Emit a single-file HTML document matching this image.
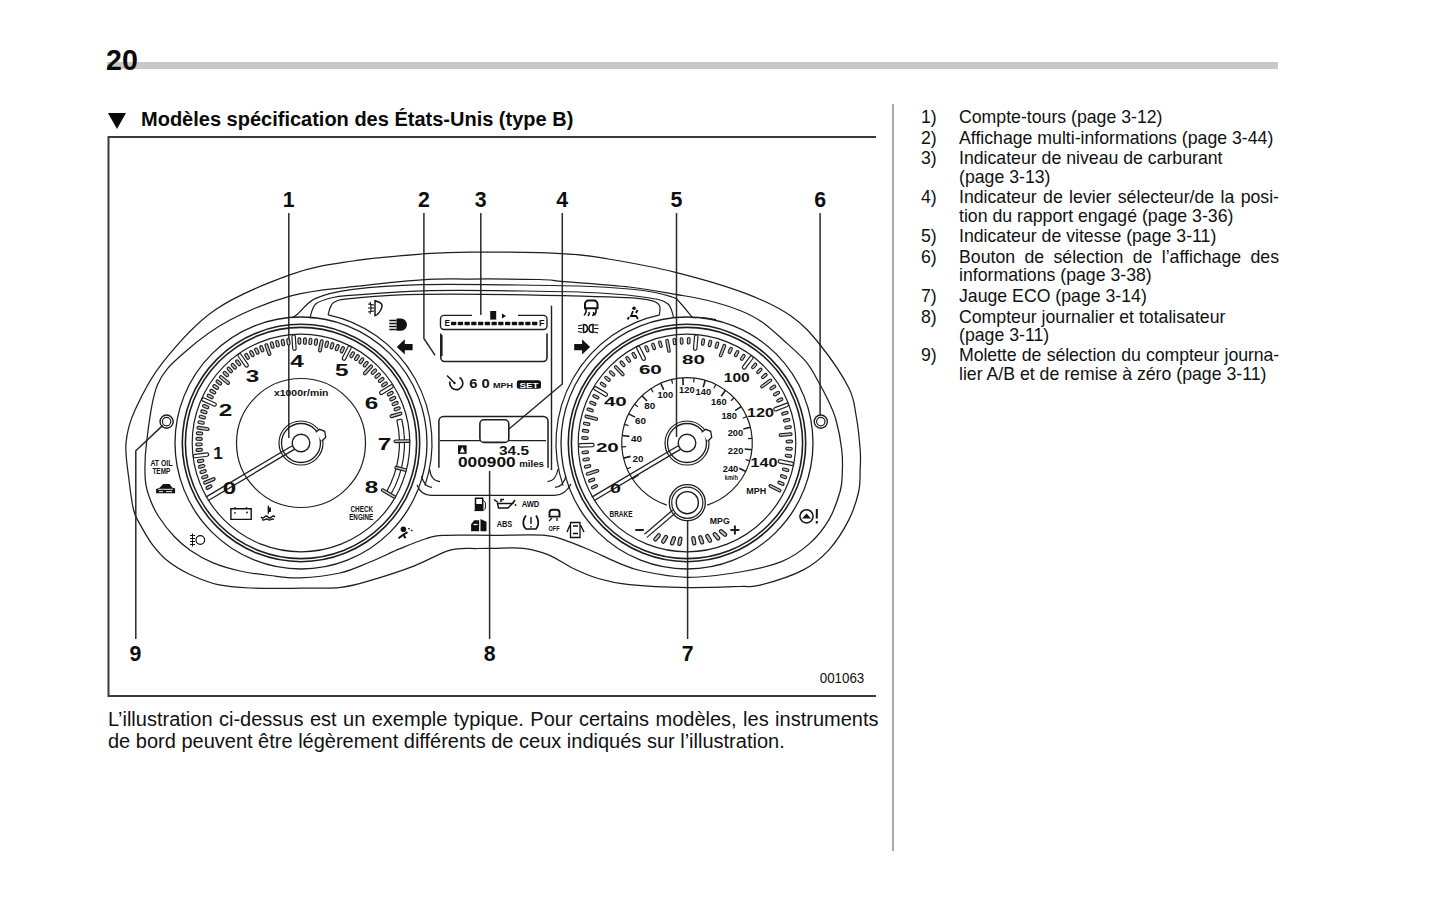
<!DOCTYPE html>
<html><head><meta charset="utf-8">
<style>
html,body{margin:0;padding:0;background:#fff;width:1445px;height:909px;overflow:hidden;position:relative}
body{font-family:"Liberation Sans",sans-serif;color:#111}
.abs{position:absolute;white-space:nowrap}
#pgnum{left:106px;top:44px;font-size:28.6px;font-weight:bold;line-height:32px;color:#0a0a0a;z-index:2}
#bar{left:107px;top:62px;width:1171px;height:7px;background:#c9c9c9}
#head{left:108px;top:106px;font-size:20px;font-weight:bold;line-height:26px;color:#0a0a0a}
#head .tri{display:inline-block;width:0;height:0;border-left:9px solid transparent;border-right:9px solid transparent;border-top:16px solid #0a0a0a;margin-right:15px;vertical-align:-3px}
#sep{left:892px;top:104px;width:2px;height:747px;background:#a9a9a9}
#list{left:921px;top:108px;width:358px;font-size:17.7px;line-height:18.2px;color:#111}
#list .it{position:relative;padding-left:38px;margin-bottom:2.5px}
.l{white-space:nowrap}
.l.j{text-align:justify;text-align-last:justify;white-space:normal}
#list .n{position:absolute;left:0;top:0}
#para{left:108px;top:707.5px;width:770.5px;font-size:20px;line-height:22.5px;color:#111}
#dia{position:absolute;left:0;top:0}
</style></head><body>
<div id="bar" class="abs"></div>
<div id="pgnum" class="abs">20</div>
<div id="head" class="abs"><span class="tri"></span>Modèles spécification des États-Unis (type B)</div>
<div id="sep" class="abs"></div>
<div id="list" class="abs">
<div class="it"><span class="n">1)</span><div class="l">Compte-tours (page 3-12)</div></div>
<div class="it"><span class="n">2)</span><div class="l">Affichage multi-informations (page 3-44)</div></div>
<div class="it"><span class="n">3)</span><div class="l">Indicateur de niveau de carburant</div><div class="l">(page 3-13)</div></div>
<div class="it"><span class="n">4)</span><div class="l j">Indicateur de levier sélecteur/de la posi-</div><div class="l">tion du rapport engagé (page 3-36)</div></div>
<div class="it"><span class="n">5)</span><div class="l">Indicateur de vitesse (page 3-11)</div></div>
<div class="it"><span class="n">6)</span><div class="l j">Bouton de sélection de l’affichage des</div><div class="l">informations (page 3-38)</div></div>
<div class="it"><span class="n">7)</span><div class="l">Jauge ECO (page 3-14)</div></div>
<div class="it"><span class="n">8)</span><div class="l">Compteur journalier et totalisateur</div><div class="l">(page 3-11)</div></div>
<div class="it"><span class="n">9)</span><div class="l j" style="letter-spacing:-0.09px">Molette de sélection du compteur journa-</div><div class="l">lier A/B et de remise à zéro (page 3-11)</div></div>
</div>
<div id="para" class="abs"><div class="l j">L’illustration ci-dessus est un exemple typique. Pour certains modèles, les instruments</div><div class="l">de bord peuvent être légèrement différents de ceux indiqués sur l’illustration.</div></div>
<svg id="dia" width="1445" height="909" viewBox="0 0 1445 909">
<g stroke="#3a3a3a" stroke-width="2" fill="none"><path d="M108 137H876M108.5 136V697M108 696H876"/></g>
<g fill="#0d0d0d" font-family="Liberation Sans">
<text x="288.8" y="207" font-size="21.3" font-weight="bold" text-anchor="middle">1</text>
<text x="423.9" y="207" font-size="21.3" font-weight="bold" text-anchor="middle">2</text>
<text x="480.8" y="207" font-size="21.3" font-weight="bold" text-anchor="middle">3</text>
<text x="562.3" y="207" font-size="21.3" font-weight="bold" text-anchor="middle">4</text>
<text x="676.5" y="207" font-size="21.3" font-weight="bold" text-anchor="middle">5</text>
<text x="820.1" y="207" font-size="21.3" font-weight="bold" text-anchor="middle">6</text>
<text x="135.5" y="661" font-size="21.3" font-weight="bold" text-anchor="middle">9</text>
<text x="489.6" y="661" font-size="21.3" font-weight="bold" text-anchor="middle">8</text>
<text x="687.6" y="661" font-size="21.3" font-weight="bold" text-anchor="middle">7</text>
<text x="842" y="683" font-size="14.5" font-weight="normal" text-anchor="middle" textLength="44.5" lengthAdjust="spacingAndGlyphs">001063</text>
</g>
<g stroke="#2a2a2a" stroke-width="1.5" fill="none"><path d="M288.8 213V438"/><path d="M423.9 213V338.4L435.1 355.3"/><path d="M480.8 213V315"/><path d="M562.3 213V384L509 429"/><path d="M676.5 213V437"/><path d="M820.1 213V415"/><path d="M135.8 639V450.8L162.8 425.4"/><path d="M489.6 639V471"/><path d="M687.6 639V502"/></g>
<g stroke="#1e1e1e" stroke-width="1.25" fill="none"><path d="M470 252C446.2 252 441.5 252.5 422 254C402.5 255.5 374.7 257.6 353 261C331.3 264.4 315 266 292 274.2C269 282.4 236.6 295.3 215 310C193.4 324.7 175.9 345.9 162.6 362.6C149.3 379.3 141.1 396.6 135 410C128.9 423.4 127 431.3 126 443C125 454.7 127.7 468.8 129 480C130.3 491.2 131.9 502.8 133.6 510C135.3 517.2 136.3 517.4 139.4 523.1C142.5 528.8 147.2 537.6 152 544C156.8 550.4 162.1 556.5 168.5 561.6C174.9 566.7 182.2 570.9 190.5 574.8C198.8 578.6 208.1 582.5 218 584.7C227.9 586.9 236.3 587.4 250 588C263.7 588.6 284.8 588.3 300 588.2C315.2 588.1 329.1 588.6 341 587.3C352.9 585.9 359.3 583.7 371.5 580.1C383.7 576.5 401.3 570.8 414.4 565.8C427.5 560.8 439.7 553 450.2 550.1C460.7 547.2 470.1 548.8 477.4 548.5C484.7 548.2 486.3 548.3 494 548.3C501.7 548.3 514.5 547.2 523.6 548.3C532.7 549.4 540.2 551.4 548.5 554.8C556.8 558.2 565.1 564.5 573.4 568.5C581.7 572.5 589 575.8 598.3 578.5C607.6 581.2 614.6 583.2 629.4 584.7C644.2 586.2 668.6 587.3 687 587.6C705.4 587.9 727.8 586.9 740 586.5C752.2 586.1 749.5 587.9 760 585.2C770.5 582.5 791.4 576 802.9 570.1C814.4 564.2 821.1 558.4 828.7 550.1C836.3 541.8 843.7 529.9 848.7 520.1C853.7 510.3 856.8 499.9 858.7 491.5C860.6 483.1 859.9 476.9 860.1 470C860.4 463.1 860.9 459.2 860.2 450C859.5 440.8 857.9 425.4 856 415C854.1 404.6 854.5 399.3 848.7 387.8C842.9 376.3 830.6 358 821 346C811.4 334 803.7 324.8 791 316C778.3 307.2 764 300.4 744.8 293.1C725.5 285.8 698.2 278 675.5 272.3C652.8 266.6 626.8 262.1 608.4 259C590 255.9 588.1 255 565 253.8C541.9 252.6 493.8 252 470 252Z"/><path d="M470 279C450.5 279.1 441.5 278.5 422 279.8C402.5 281.1 374.7 284.1 353 286.7C331.3 289.3 312.5 290.1 292 295.7C271.5 301.2 247.8 310.6 230 320C212.2 329.4 197.1 341.2 185 352C172.9 362.8 163.8 369.8 157.4 385C151 400.2 148.5 427.2 146.5 443C144.5 458.8 144.7 470.1 145.3 479.6C146 489.1 148.2 493.9 150.4 500C152.6 506.1 154.7 510.4 158.6 516.5C162.5 522.5 168.7 530.6 174 536.3C179.3 542 184.1 546.2 190.5 550.6C196.9 555 204.2 559.3 212.5 562.7C220.8 566.1 230.4 568.9 240 571C249.6 573.1 260 574.4 270 575.5C280 576.6 288.3 578.2 300 577.8C311.7 577.4 328.3 575.6 340 573C351.7 570.4 360 566 370 562C380 558 390.8 552.5 400 548.7C409.2 544.9 417.8 541.2 425 539C432.2 536.8 431.5 535.9 443 535.3C454.5 534.7 477 535.3 494 535.3C511 535.3 532.8 534.3 545 535.3C557.2 536.3 559.4 538.5 567.2 541.1C575 543.7 583.7 547.5 592 551C600.3 554.5 608.7 559 617 562.3C625.3 565.6 630.3 568.5 642 571C653.7 573.5 670.7 577.1 687 577.3C703.3 577.5 724.2 574.6 740 572C755.8 569.4 770.1 566.2 781.5 561.6C792.9 557 800.7 551.3 808.6 544.4C816.5 537.5 823.5 528.9 828.7 520.1C834 511.3 837.8 499.4 840.1 491.5C842.4 483.6 842 479.8 842.3 472.9C842.6 466 842.8 458.8 841.8 450C840.8 441.2 838.3 428.3 836 420C833.7 411.7 831.2 406.8 828 400C824.8 393.2 820.7 385.6 817 379.2C813.3 372.8 811.5 368 806 361.6C800.5 355.2 791.3 347.3 784 340.7C776.7 334.1 769.3 327 762 322C754.7 317 749 314.1 740 310.5C731 306.9 718.8 303.2 708 300.5C697.2 297.8 688.6 296.6 675.5 294.3C662.4 292.1 647.8 289.1 629.2 287C610.7 284.9 579.2 282.9 564.2 281.6C549.2 280.4 554.7 279.9 539 279.5C523.3 279.1 489.5 278.9 470 279Z"/></g>
<g stroke="#1e1e1e" fill="none"><circle cx="301" cy="443" r="126" stroke-width="1.3"/><circle cx="301" cy="443" r="118.7" stroke-width="1.6"/><circle cx="301" cy="443" r="115.6" stroke-width="1.6"/><circle cx="301" cy="443" r="108.8" stroke-width="1.2"/><circle cx="687" cy="443" r="126" stroke-width="1.3"/><circle cx="687" cy="443" r="118.7" stroke-width="1.6"/><circle cx="687" cy="443" r="115.6" stroke-width="1.6"/><circle cx="687" cy="443" r="108.8" stroke-width="1.2"/><circle cx="301" cy="443" r="64.5" stroke-width="1.2"/><path d="M666.8 505.1 A65.3 65.3 0 1 1 707.2 505.1" stroke-width="1.2"/><circle cx="301" cy="443" r="22" stroke-width="1.2"/><circle cx="301" cy="443" r="19.5" stroke-width="1.3"/><circle cx="301" cy="443" r="8.8" stroke-width="1.4"/><path d="M315.7 432.3 l4 -3 5 2 1 6 -4 4" stroke-width="1.3" fill="#fff"/><path d="M292.2 445.8L205.8 497.1" stroke-width="1.3"/><path d="M294.3 449.4L207.9 500.7" stroke-width="1.3"/><circle cx="687" cy="443" r="22" stroke-width="1.2"/><circle cx="687" cy="443" r="19.5" stroke-width="1.3"/><circle cx="687" cy="443" r="8.8" stroke-width="1.4"/><path d="M701.7 432.3 l4 -3 5 2 1 6 -4 4" stroke-width="1.3" fill="#fff"/><path d="M678.2 445.8L591.8 497.1" stroke-width="1.3"/><path d="M680.3 449.4L593.9 500.7" stroke-width="1.3"/><circle cx="687.3" cy="502.7" r="18" stroke-width="1.3" fill="#fff"/><circle cx="687.3" cy="502.7" r="15.6" stroke-width="1.2"/><circle cx="687.3" cy="502.7" r="11.1" stroke-width="1.4"/><path d="M675.2 513.2L646.9 537.4" stroke-width="1.2"/><path d="M672.8 510L644.5 534.2" stroke-width="1.2"/><circle cx="166.6" cy="421.6" r="6.6" stroke-width="1.4"/><circle cx="166.6" cy="421.6" r="4.2" stroke-width="1.2"/><circle cx="820.8" cy="421.6" r="6.6" stroke-width="1.4"/><circle cx="820.8" cy="421.6" r="4.2" stroke-width="1.2"/></g>
<g stroke="#1e1e1e" fill="#c4c4c4"><rect x="205.8" y="485.7" width="6.4" height="2.8" rx="1.4" transform="rotate(154.4 209 487.1)" stroke-width="1.15"/><rect x="203.3" y="479.5" width="12.2" height="2.8" rx="1.4" transform="rotate(157.5 209.4 480.9)" stroke-width="1.15"/><rect x="201.6" y="475.5" width="6.4" height="2.8" rx="1.4" transform="rotate(160.6 204.8 476.9)" stroke-width="1.15"/><rect x="199.9" y="470.2" width="6.4" height="2.8" rx="1.4" transform="rotate(163.7 203.1 471.6)" stroke-width="1.15"/><rect x="198.5" y="464.9" width="6.4" height="2.8" rx="1.4" transform="rotate(166.8 201.7 466.3)" stroke-width="1.15"/><rect x="197.4" y="459.5" width="6.4" height="2.8" rx="1.4" transform="rotate(169.9 200.6 460.9)" stroke-width="1.15"/><rect x="193.3" y="453.6" width="15.5" height="3.4" rx="1.7" transform="rotate(173 201 455.3)" fill="#fff" stroke-width="1.2"/><rect x="196" y="448.5" width="6.4" height="2.8" rx="1.4" transform="rotate(176.1 199.2 449.9)" stroke-width="1.15"/><rect x="195.8" y="443" width="6.4" height="2.8" rx="1.4" transform="rotate(179.2 199 444.4)" stroke-width="1.15"/><rect x="195.9" y="437.5" width="6.4" height="2.8" rx="1.4" transform="rotate(182.3 199.1 438.9)" stroke-width="1.15"/><rect x="196.3" y="432" width="6.4" height="2.8" rx="1.4" transform="rotate(185.4 199.5 433.4)" stroke-width="1.15"/><rect x="196.9" y="427" width="12.2" height="2.8" rx="1.4" transform="rotate(188.5 203 428.4)" stroke-width="1.15"/><rect x="197.9" y="421.1" width="6.4" height="2.8" rx="1.4" transform="rotate(191.6 201.1 422.5)" stroke-width="1.15"/><rect x="199.1" y="415.7" width="6.4" height="2.8" rx="1.4" transform="rotate(194.7 202.3 417.1)" stroke-width="1.15"/><rect x="200.7" y="410.4" width="6.4" height="2.8" rx="1.4" transform="rotate(197.8 203.9 411.8)" stroke-width="1.15"/><rect x="202.5" y="405.2" width="6.4" height="2.8" rx="1.4" transform="rotate(200.9 205.7 406.6)" stroke-width="1.15"/><rect x="201.2" y="400.3" width="15.5" height="3.4" rx="1.7" transform="rotate(204 209 402)" fill="#fff" stroke-width="1.2"/><rect x="207" y="395.1" width="6.4" height="2.8" rx="1.4" transform="rotate(207.1 210.2 396.5)" stroke-width="1.15"/><rect x="209.6" y="390.3" width="6.4" height="2.8" rx="1.4" transform="rotate(210.2 212.8 391.7)" stroke-width="1.15"/><rect x="212.5" y="385.6" width="6.4" height="2.8" rx="1.4" transform="rotate(213.3 215.7 387)" stroke-width="1.15"/><rect x="215.7" y="381.1" width="6.4" height="2.8" rx="1.4" transform="rotate(216.4 218.9 382.5)" stroke-width="1.15"/><rect x="218.4" y="378.6" width="12.2" height="2.8" rx="1.4" transform="rotate(219.5 224.5 380)" stroke-width="1.15"/><rect x="222.7" y="372.6" width="6.4" height="2.8" rx="1.4" transform="rotate(222.6 225.9 374)" stroke-width="1.15"/><rect x="226.6" y="368.6" width="6.4" height="2.8" rx="1.4" transform="rotate(225.7 229.8 370)" stroke-width="1.15"/><rect x="230.6" y="364.9" width="6.4" height="2.8" rx="1.4" transform="rotate(228.8 233.8 366.3)" stroke-width="1.15"/><rect x="234.9" y="361.3" width="6.4" height="2.8" rx="1.4" transform="rotate(231.9 238.1 362.7)" stroke-width="1.15"/><rect x="235.5" y="358.8" width="15.5" height="3.4" rx="1.7" transform="rotate(235 243.2 360.5)" fill="#fff" stroke-width="1.2"/><rect x="243.9" y="355" width="6.4" height="2.8" rx="1.4" transform="rotate(238.1 247.1 356.4)" stroke-width="1.15"/><rect x="248.7" y="352.2" width="6.4" height="2.8" rx="1.4" transform="rotate(241.2 251.9 353.6)" stroke-width="1.15"/><rect x="253.6" y="349.7" width="6.4" height="2.8" rx="1.4" transform="rotate(244.3 256.8 351.1)" stroke-width="1.15"/><rect x="258.6" y="347.4" width="6.4" height="2.8" rx="1.4" transform="rotate(247.4 261.8 348.8)" stroke-width="1.15"/><rect x="261.8" y="348.2" width="12.2" height="2.8" rx="1.4" transform="rotate(250.5 267.9 349.6)" stroke-width="1.15"/><rect x="269" y="343.7" width="6.4" height="2.8" rx="1.4" transform="rotate(253.6 272.2 345.1)" stroke-width="1.15"/><rect x="274.3" y="342.3" width="6.4" height="2.8" rx="1.4" transform="rotate(256.7 277.5 343.7)" stroke-width="1.15"/><rect x="279.7" y="341.2" width="6.4" height="2.8" rx="1.4" transform="rotate(259.8 282.9 342.6)" stroke-width="1.15"/><rect x="285.2" y="340.4" width="6.4" height="2.8" rx="1.4" transform="rotate(262.9 288.4 341.8)" stroke-width="1.15"/><rect x="286.2" y="340.8" width="15.5" height="3.4" rx="1.7" transform="rotate(266 294 342.5)" fill="#fff" stroke-width="1.2"/><rect x="296.2" y="339.6" width="6.4" height="2.8" rx="1.4" transform="rotate(269.1 299.4 341)" stroke-width="1.15"/><rect x="301.7" y="339.7" width="6.4" height="2.8" rx="1.4" transform="rotate(272.2 304.9 341.1)" stroke-width="1.15"/><rect x="307.2" y="340" width="6.4" height="2.8" rx="1.4" transform="rotate(275.3 310.4 341.4)" stroke-width="1.15"/><rect x="312.7" y="340.7" width="6.4" height="2.8" rx="1.4" transform="rotate(278.4 315.9 342.1)" stroke-width="1.15"/><rect x="314.7" y="344.5" width="12.2" height="2.8" rx="1.4" transform="rotate(281.5 320.8 345.9)" stroke-width="1.15"/><rect x="323.5" y="342.9" width="6.4" height="2.8" rx="1.4" transform="rotate(284.6 326.7 344.3)" stroke-width="1.15"/><rect x="328.8" y="344.4" width="6.4" height="2.8" rx="1.4" transform="rotate(287.7 332 345.8)" stroke-width="1.15"/><rect x="334" y="346.2" width="6.4" height="2.8" rx="1.4" transform="rotate(290.8 337.2 347.6)" stroke-width="1.15"/><rect x="339.1" y="348.3" width="6.4" height="2.8" rx="1.4" transform="rotate(293.9 342.3 349.7)" stroke-width="1.15"/><rect x="339" y="351.5" width="15.5" height="3.4" rx="1.7" transform="rotate(297 346.7 353.2)" fill="#fff" stroke-width="1.2"/><rect x="349" y="353.4" width="6.4" height="2.8" rx="1.4" transform="rotate(300.1 352.2 354.8)" stroke-width="1.15"/><rect x="353.7" y="356.3" width="6.4" height="2.8" rx="1.4" transform="rotate(303.2 356.9 357.7)" stroke-width="1.15"/><rect x="358.2" y="359.4" width="6.4" height="2.8" rx="1.4" transform="rotate(306.3 361.4 360.8)" stroke-width="1.15"/><rect x="362.5" y="362.8" width="6.4" height="2.8" rx="1.4" transform="rotate(309.4 365.7 364.2)" stroke-width="1.15"/><rect x="361.9" y="368.5" width="12.2" height="2.8" rx="1.4" transform="rotate(312.5 368 369.9)" stroke-width="1.15"/><rect x="370.7" y="370.2" width="6.4" height="2.8" rx="1.4" transform="rotate(315.6 373.9 371.6)" stroke-width="1.15"/><rect x="374.4" y="374.3" width="6.4" height="2.8" rx="1.4" transform="rotate(318.7 377.6 375.7)" stroke-width="1.15"/><rect x="378" y="378.5" width="6.4" height="2.8" rx="1.4" transform="rotate(321.8 381.2 379.9)" stroke-width="1.15"/><rect x="381.3" y="382.9" width="6.4" height="2.8" rx="1.4" transform="rotate(324.9 384.5 384.3)" stroke-width="1.15"/><rect x="378.7" y="387.9" width="15.5" height="3.4" rx="1.7" transform="rotate(328 386.4 389.6)" fill="#fff" stroke-width="1.2"/><rect x="387.1" y="392.3" width="6.4" height="2.8" rx="1.4" transform="rotate(331.1 390.3 393.7)" stroke-width="1.15"/><rect x="389.6" y="397.2" width="6.4" height="2.8" rx="1.4" transform="rotate(334.2 392.8 398.6)" stroke-width="1.15"/><rect x="391.9" y="402.2" width="6.4" height="2.8" rx="1.4" transform="rotate(337.3 395.1 403.6)" stroke-width="1.15"/><rect x="393.9" y="407.4" width="6.4" height="2.8" rx="1.4" transform="rotate(340.4 397.1 408.8)" stroke-width="1.15"/><rect x="389.9" y="413.5" width="12.2" height="2.8" rx="1.4" transform="rotate(343.5 396 414.9)" stroke-width="1.15"/><path d="M396.8 420.2 A98.5 98.5 0 0 1 386.3 492.2" stroke-width="1.2" fill="none"/><path d="M401.7 419 A103.5 103.5 0 0 1 390.6 494.8" stroke-width="1.2" fill="none"/><path d="M396.8 420.2L401.7 419" stroke-width="1.2"/><rect x="394" y="439.9" width="16" height="2.6" rx="1.3" transform="rotate(359 402 441.2)" stroke-width="1.1"/><rect x="394.7" y="467.5" width="12" height="2.6" rx="1.3" transform="rotate(374.5 400.7 468.8)" stroke-width="1.1"/><rect x="380.5" y="492.2" width="16" height="2.6" rx="1.3" transform="rotate(390 388.5 493.5)" stroke-width="1.1"/></g>
<g stroke="#1e1e1e" fill="#c4c4c4"><rect x="591.3" y="485.4" width="6.5" height="2.6" rx="1.3" transform="rotate(154.7 594.5 486.7)" stroke-width="1.1"/><rect x="588.5" y="478.8" width="6.5" height="2.6" rx="1.3" transform="rotate(158.7 591.7 480.1)" stroke-width="1.1"/><rect x="586" y="471.1" width="13" height="2.6" rx="1.3" transform="rotate(162.7 592.5 472.4)" stroke-width="1.1"/><rect x="584.2" y="465.1" width="6.5" height="2.6" rx="1.3" transform="rotate(166.7 587.5 466.4)" stroke-width="1.1"/><rect x="582.8" y="458.1" width="6.5" height="2.6" rx="1.3" transform="rotate(170.8 586.1 459.4)" stroke-width="1.1"/><rect x="581.9" y="451" width="6.5" height="2.6" rx="1.3" transform="rotate(174.8 585.2 452.3)" stroke-width="1.1"/><rect x="578.5" y="443.5" width="15.5" height="3.4" rx="1.7" transform="rotate(178.8 586.3 445.2)" fill="#fff" stroke-width="1.2"/><rect x="581.6" y="436.7" width="6.5" height="2.6" rx="1.3" transform="rotate(182.8 584.9 438)" stroke-width="1.1"/><rect x="582.2" y="429.6" width="6.5" height="2.6" rx="1.3" transform="rotate(186.8 585.5 430.9)" stroke-width="1.1"/><rect x="583.3" y="422.5" width="6.5" height="2.6" rx="1.3" transform="rotate(190.8 586.6 423.8)" stroke-width="1.1"/><rect x="584.8" y="416.4" width="13" height="2.6" rx="1.3" transform="rotate(194.8 591.3 417.7)" stroke-width="1.1"/><rect x="587" y="408.7" width="6.5" height="2.6" rx="1.3" transform="rotate(198.8 590.2 410)" stroke-width="1.1"/><rect x="589.5" y="402" width="6.5" height="2.6" rx="1.3" transform="rotate(202.8 592.8 403.3)" stroke-width="1.1"/><rect x="592.5" y="395.5" width="6.5" height="2.6" rx="1.3" transform="rotate(206.8 595.8 396.8)" stroke-width="1.1"/><rect x="592.7" y="389.7" width="15.5" height="3.4" rx="1.7" transform="rotate(210.8 600.5 391.4)" fill="#fff" stroke-width="1.2"/><rect x="599.8" y="383.3" width="6.5" height="2.6" rx="1.3" transform="rotate(214.8 603.1 384.6)" stroke-width="1.1"/><rect x="604.1" y="377.5" width="6.5" height="2.6" rx="1.3" transform="rotate(218.9 607.4 378.8)" stroke-width="1.1"/><rect x="608.8" y="372.1" width="6.5" height="2.6" rx="1.3" transform="rotate(222.9 612.1 373.4)" stroke-width="1.1"/><rect x="612.8" y="369.4" width="13" height="2.6" rx="1.3" transform="rotate(226.9 619.3 370.7)" stroke-width="1.1"/><rect x="619.2" y="362.4" width="6.5" height="2.6" rx="1.3" transform="rotate(230.9 622.5 363.7)" stroke-width="1.1"/><rect x="624.9" y="358.1" width="6.5" height="2.6" rx="1.3" transform="rotate(234.9 628.2 359.4)" stroke-width="1.1"/><rect x="630.9" y="354.1" width="6.5" height="2.6" rx="1.3" transform="rotate(238.9 634.2 355.4)" stroke-width="1.1"/><rect x="633.4" y="351.6" width="15.5" height="3.4" rx="1.7" transform="rotate(242.9 641.1 353.3)" fill="#fff" stroke-width="1.2"/><rect x="643.7" y="347.6" width="6.5" height="2.6" rx="1.3" transform="rotate(246.9 646.9 348.9)" stroke-width="1.1"/><rect x="650.3" y="345.1" width="6.5" height="2.6" rx="1.3" transform="rotate(250.9 653.6 346.4)" stroke-width="1.1"/><rect x="657.2" y="343" width="6.5" height="2.6" rx="1.3" transform="rotate(254.9 660.4 344.3)" stroke-width="1.1"/><rect x="661.5" y="344.5" width="13" height="2.6" rx="1.3" transform="rotate(258.9 668 345.8)" stroke-width="1.1"/><rect x="671.2" y="340.2" width="6.5" height="2.6" rx="1.3" transform="rotate(263 674.5 341.5)" stroke-width="1.1"/><rect x="678.3" y="339.6" width="6.5" height="2.6" rx="1.3" transform="rotate(267 681.6 340.9)" stroke-width="1.1"/><rect x="685.5" y="339.5" width="6.5" height="2.6" rx="1.3" transform="rotate(271 688.7 340.8)" stroke-width="1.1"/><rect x="688" y="340.9" width="15.5" height="3.4" rx="1.7" transform="rotate(275 695.7 342.6)" fill="#fff" stroke-width="1.2"/><rect x="699.7" y="340.7" width="6.5" height="2.6" rx="1.3" transform="rotate(279 703 342)" stroke-width="1.1"/><rect x="706.7" y="342.1" width="6.5" height="2.6" rx="1.3" transform="rotate(283 710 343.4)" stroke-width="1.1"/><rect x="713.7" y="343.9" width="6.5" height="2.6" rx="1.3" transform="rotate(287 716.9 345.2)" stroke-width="1.1"/><rect x="716" y="349.3" width="13" height="2.6" rx="1.3" transform="rotate(291 722.5 350.6)" stroke-width="1.1"/><rect x="727" y="349" width="6.5" height="2.6" rx="1.3" transform="rotate(295 730.3 350.3)" stroke-width="1.1"/><rect x="733.4" y="352.3" width="6.5" height="2.6" rx="1.3" transform="rotate(299 736.6 353.6)" stroke-width="1.1"/><rect x="739.5" y="356" width="6.5" height="2.6" rx="1.3" transform="rotate(303 742.8 357.3)" stroke-width="1.1"/><rect x="740" y="360.9" width="15.5" height="3.4" rx="1.7" transform="rotate(307 747.7 362.6)" fill="#fff" stroke-width="1.2"/><rect x="750.9" y="364.6" width="6.5" height="2.6" rx="1.3" transform="rotate(311.1 754.2 365.9)" stroke-width="1.1"/><rect x="756.1" y="369.5" width="6.5" height="2.6" rx="1.3" transform="rotate(315.1 759.4 370.8)" stroke-width="1.1"/><rect x="761" y="374.7" width="6.5" height="2.6" rx="1.3" transform="rotate(319.1 764.3 376)" stroke-width="1.1"/><rect x="759.7" y="382.2" width="13" height="2.6" rx="1.3" transform="rotate(323.1 766.2 383.5)" stroke-width="1.1"/><rect x="769.6" y="386.2" width="6.5" height="2.6" rx="1.3" transform="rotate(327.1 772.8 387.5)" stroke-width="1.1"/><rect x="773.3" y="392.3" width="6.5" height="2.6" rx="1.3" transform="rotate(331.1 776.5 393.6)" stroke-width="1.1"/><rect x="776.5" y="398.7" width="6.5" height="2.6" rx="1.3" transform="rotate(335.1 779.8 400)" stroke-width="1.1"/><rect x="773.4" y="405.4" width="15.5" height="3.4" rx="1.7" transform="rotate(339.1 781.1 407.1)" fill="#fff" stroke-width="1.2"/><rect x="781.6" y="412" width="6.5" height="2.6" rx="1.3" transform="rotate(343.1 784.8 413.3)" stroke-width="1.1"/><rect x="783.4" y="418.9" width="6.5" height="2.6" rx="1.3" transform="rotate(347.1 786.7 420.2)" stroke-width="1.1"/><rect x="784.8" y="426" width="6.5" height="2.6" rx="1.3" transform="rotate(351.1 788 427.3)" stroke-width="1.1"/><rect x="779.1" y="433.3" width="13" height="2.6" rx="1.3" transform="rotate(355.2 785.6 434.6)" stroke-width="1.1"/><rect x="786" y="440.2" width="6.5" height="2.6" rx="1.3" transform="rotate(359.2 789.2 441.5)" stroke-width="1.1"/><rect x="785.8" y="447.4" width="6.5" height="2.6" rx="1.3" transform="rotate(363.2 789.1 448.7)" stroke-width="1.1"/><rect x="785.2" y="454.5" width="6.5" height="2.6" rx="1.3" transform="rotate(367.2 788.4 455.8)" stroke-width="1.1"/><rect x="778.1" y="460.9" width="15.5" height="3.4" rx="1.7" transform="rotate(371.2 785.8 462.6)" fill="#fff" stroke-width="1.2"/><rect x="782.4" y="468.5" width="6.5" height="2.6" rx="1.3" transform="rotate(375.2 785.7 469.8)" stroke-width="1.1"/><rect x="780.3" y="475.3" width="6.5" height="2.6" rx="1.3" transform="rotate(379.2 783.6 476.6)" stroke-width="1.1"/><rect x="777.7" y="482" width="6.5" height="2.6" rx="1.3" transform="rotate(383.2 781 483.3)" stroke-width="1.1"/><rect x="768.5" y="487" width="13" height="2.6" rx="1.3" transform="rotate(387.2 775 488.3)" stroke-width="1.1"/><path d="M638.5 474.8L632.4 478.9" stroke-width="1.6"/><path d="M631 467.2L627 468.9" stroke-width="1.2"/><path d="M630.6 456.4L623.5 458.1" stroke-width="1.6"/><path d="M626.1 446.6L621.8 446.9" stroke-width="1.2"/><path d="M629.4 436.4L622.1 435.5" stroke-width="1.6"/><path d="M628.5 425.6L624.4 424.4" stroke-width="1.2"/><path d="M635.1 417.1L628.6 413.9" stroke-width="1.6"/><path d="M637.9 406.7L634.5 404.2" stroke-width="1.2"/><path d="M647 401L642 395.7" stroke-width="1.6"/><path d="M653.2 392.2L650.9 388.6" stroke-width="1.2"/><path d="M663.7 389.9L660.8 383.2" stroke-width="1.6"/><path d="M672.6 383.7L671.6 379.6" stroke-width="1.2"/><path d="M683.2 385.1L682.8 377.8" stroke-width="1.6"/><path d="M693.6 382.4L694.1 378.1" stroke-width="1.2"/><path d="M703.2 387.3L705.2 380.3" stroke-width="1.6"/><path d="M713.9 388.3L715.8 384.4" stroke-width="1.2"/><path d="M721.2 396.2L725.5 390.3" stroke-width="1.6"/><path d="M731 400.7L734.1 397.7" stroke-width="1.2"/><path d="M735.1 410.6L741.2 406.6" stroke-width="1.6"/><path d="M742.7 418.2L746.7 416.5" stroke-width="1.2"/><path d="M743.3 429L750.4 427.2" stroke-width="1.6"/><path d="M747.9 438.7L752.1 438.4" stroke-width="1.2"/><path d="M744.7 449L751.9 449.8" stroke-width="1.6"/><path d="M745.7 459.7L749.8 460.9" stroke-width="1.2"/><path d="M739.2 468.3L745.8 471.5" stroke-width="1.6"/><rect x="652.9" y="535.7" width="8.5" height="3.2" rx="1.6" transform="rotate(131.1 657.1 537.3)" stroke-width="1.2"/><rect x="660.4" y="537.7" width="8.5" height="3.2" rx="1.6" transform="rotate(121.8 664.6 539.3)" stroke-width="1.2"/><rect x="668.8" y="539.2" width="8.5" height="3.2" rx="1.6" transform="rotate(110.6 673 540.8)" stroke-width="1.2"/><rect x="675.6" y="539.7" width="8.5" height="3.2" rx="1.6" transform="rotate(100.9 679.9 541.3)" stroke-width="1.2"/><rect x="689.5" y="539.2" width="8.5" height="3.2" rx="1.6" transform="rotate(80.3 693.8 540.8)" stroke-width="1.2"/><rect x="697" y="538.2" width="8.5" height="3.2" rx="1.6" transform="rotate(69.5 701.2 539.8)" stroke-width="1.2"/><rect x="704.4" y="536.7" width="8.5" height="3.2" rx="1.6" transform="rotate(59.1 708.6 538.3)" stroke-width="1.2"/><rect x="712.2" y="534.7" width="8.5" height="3.2" rx="1.6" transform="rotate(49 716.5 536.3)" stroke-width="1.2"/><rect x="718.8" y="531.3" width="8.5" height="3.2" rx="1.6" transform="rotate(40.2 723 532.9)" stroke-width="1.2"/><path d="M635.3 530H643.8M730.4 529.9H739.4M734.9 525.4V534.4" stroke-width="2"/></g>
<g fill="#111" font-family="Liberation Sans"><text x="229.5" y="494.2" font-size="17" font-weight="bold" text-anchor="middle" textLength="13.5" lengthAdjust="spacingAndGlyphs">0</text><text x="218" y="458.7" font-size="17" font-weight="bold" text-anchor="middle">1</text><text x="225.4" y="415.7" font-size="17" font-weight="bold" text-anchor="middle" textLength="13.5" lengthAdjust="spacingAndGlyphs">2</text><text x="252.6" y="382.2" font-size="17" font-weight="bold" text-anchor="middle" textLength="13.5" lengthAdjust="spacingAndGlyphs">3</text><text x="297" y="367.2" font-size="17" font-weight="bold" text-anchor="middle" textLength="13.5" lengthAdjust="spacingAndGlyphs">4</text><text x="341.7" y="375.5" font-size="17" font-weight="bold" text-anchor="middle" textLength="13.5" lengthAdjust="spacingAndGlyphs">5</text><text x="371.4" y="408.5" font-size="17" font-weight="bold" text-anchor="middle" textLength="13.5" lengthAdjust="spacingAndGlyphs">6</text><text x="384.6" y="449.8" font-size="17" font-weight="bold" text-anchor="middle" textLength="13.5" lengthAdjust="spacingAndGlyphs">7</text><text x="371.4" y="492.7" font-size="17" font-weight="bold" text-anchor="middle" textLength="13.5" lengthAdjust="spacingAndGlyphs">8</text><text x="615.4" y="492.9" font-size="13.5" font-weight="bold" text-anchor="middle" textLength="11" lengthAdjust="spacingAndGlyphs">0</text><text x="607.4" y="452.1" font-size="13.5" font-weight="bold" text-anchor="middle" textLength="23" lengthAdjust="spacingAndGlyphs">20</text><text x="615.4" y="406.2" font-size="13.5" font-weight="bold" text-anchor="middle" textLength="23" lengthAdjust="spacingAndGlyphs">40</text><text x="650.4" y="374.3" font-size="13.5" font-weight="bold" text-anchor="middle" textLength="23" lengthAdjust="spacingAndGlyphs">60</text><text x="693.5" y="363.6" font-size="13.5" font-weight="bold" text-anchor="middle" textLength="23" lengthAdjust="spacingAndGlyphs">80</text><text x="736.8" y="381.8" font-size="13.5" font-weight="bold" text-anchor="middle" textLength="26" lengthAdjust="spacingAndGlyphs">100</text><text x="760.4" y="416.8" font-size="13.5" font-weight="bold" text-anchor="middle" textLength="27" lengthAdjust="spacingAndGlyphs">120</text><text x="764.1" y="466.6" font-size="13.5" font-weight="bold" text-anchor="middle" textLength="27" lengthAdjust="spacingAndGlyphs">140</text><text x="638.1" y="462.1" font-size="8.5" font-weight="bold" text-anchor="middle" textLength="11" lengthAdjust="spacingAndGlyphs">20</text><text x="636.5" y="442.3" font-size="8.5" font-weight="bold" text-anchor="middle" textLength="11" lengthAdjust="spacingAndGlyphs">40</text><text x="640.6" y="424.2" font-size="8.5" font-weight="bold" text-anchor="middle" textLength="11" lengthAdjust="spacingAndGlyphs">60</text><text x="649.7" y="408.5" font-size="8.5" font-weight="bold" text-anchor="middle" textLength="11" lengthAdjust="spacingAndGlyphs">80</text><text x="665.3" y="397.8" font-size="8.5" font-weight="bold" text-anchor="middle" textLength="15.5" lengthAdjust="spacingAndGlyphs">100</text><text x="686.8" y="392.8" font-size="8.5" font-weight="bold" text-anchor="middle" textLength="15.5" lengthAdjust="spacingAndGlyphs">120</text><text x="703.3" y="395.3" font-size="8.5" font-weight="bold" text-anchor="middle" textLength="15.5" lengthAdjust="spacingAndGlyphs">140</text><text x="718.8" y="404.9" font-size="8.5" font-weight="bold" text-anchor="middle" textLength="15.5" lengthAdjust="spacingAndGlyphs">160</text><text x="729.2" y="418.5" font-size="8.5" font-weight="bold" text-anchor="middle" textLength="15.5" lengthAdjust="spacingAndGlyphs">180</text><text x="735.4" y="435.5" font-size="8.5" font-weight="bold" text-anchor="middle" textLength="15.5" lengthAdjust="spacingAndGlyphs">200</text><text x="735.6" y="454.4" font-size="8.5" font-weight="bold" text-anchor="middle" textLength="15.5" lengthAdjust="spacingAndGlyphs">220</text><text x="730.5" y="471.7" font-size="8.5" font-weight="bold" text-anchor="middle" textLength="15.5" lengthAdjust="spacingAndGlyphs">240</text><text x="731.3" y="479.5" font-size="6.5" font-weight="bold" text-anchor="middle" textLength="13" lengthAdjust="spacingAndGlyphs">km/h</text><text x="301.2" y="396" font-size="9.5" font-weight="bold" text-anchor="middle" textLength="54.5" lengthAdjust="spacingAndGlyphs">x1000r/min</text><text x="756.3" y="494" font-size="9.5" font-weight="bold" text-anchor="middle" textLength="20" lengthAdjust="spacingAndGlyphs">MPH</text><text x="621" y="517" font-size="9.5" font-weight="bold" text-anchor="middle" textLength="23" lengthAdjust="spacingAndGlyphs">BRAKE</text><text x="719.8" y="524" font-size="9.5" font-weight="bold" text-anchor="middle" textLength="20" lengthAdjust="spacingAndGlyphs">MPG</text><text x="161.4" y="465.8" font-size="8.5" font-weight="bold" text-anchor="middle" textLength="22" lengthAdjust="spacingAndGlyphs">AT OIL</text><text x="161.4" y="474" font-size="8.5" font-weight="bold" text-anchor="middle" textLength="18" lengthAdjust="spacingAndGlyphs">TEMP</text><text x="361.8" y="511.7" font-size="9" font-weight="bold" text-anchor="middle" textLength="22.7" lengthAdjust="spacingAndGlyphs">CHECK</text><text x="361.2" y="520.3" font-size="9" font-weight="bold" text-anchor="middle" textLength="24" lengthAdjust="spacingAndGlyphs">ENGINE</text><text x="530.5" y="507" font-size="8.5" font-weight="bold" text-anchor="middle" textLength="17.7" lengthAdjust="spacingAndGlyphs">AWD</text><text x="504.5" y="526.7" font-size="8.5" font-weight="bold" text-anchor="middle" textLength="15.6" lengthAdjust="spacingAndGlyphs">ABS</text><text x="479.5" y="388.2" font-size="12" font-weight="bold" text-anchor="middle" textLength="20.5" lengthAdjust="spacingAndGlyphs">6 0</text><text x="503" y="388" font-size="8" font-weight="bold" text-anchor="middle" textLength="20" lengthAdjust="spacingAndGlyphs">MPH</text><rect x="516.8" y="380.2" width="24.2" height="8.6" rx="2.5" fill="#111"/><text x="529" y="387.6" font-size="8" font-weight="bold" text-anchor="middle" textLength="19" lengthAdjust="spacingAndGlyphs" fill="#fff">SET</text><text x="514" y="455.2" font-size="13" font-weight="bold" text-anchor="middle" textLength="30" lengthAdjust="spacingAndGlyphs">34.5</text><text x="458" y="466.8" font-size="14" font-weight="bold" text-anchor="start" textLength="57.7" lengthAdjust="spacingAndGlyphs">000900</text><text x="519.2" y="466.8" font-size="9" font-weight="bold" text-anchor="start" textLength="24.8" lengthAdjust="spacingAndGlyphs">miles</text><rect x="458" y="445.3" width="8.6" height="8.6" fill="#111"/><path d="M459.8 452.5L462.3 446.8L464.8 452.5Z" fill="#fff"/><text x="447.3" y="325.6" font-size="9" font-weight="bold" text-anchor="middle" textLength="5.5" lengthAdjust="spacingAndGlyphs">E</text><text x="541.8" y="325.6" font-size="9" font-weight="bold" text-anchor="middle" textLength="5.5" lengthAdjust="spacingAndGlyphs">F</text></g>
<g stroke="#1e1e1e" fill="none"><path d="M472 315.4H444a3.5 3.5 0 0 0 -3.5 3.5V326a3.5 3.5 0 0 0 3.5 3.5H543.5a3.5 3.5 0 0 0 3.5 -3.5V318.9a3.5 3.5 0 0 0 -3.5 -3.5H518" stroke-width="1.4"/><path d="M440.8 333.6V357.5a4 4 0 0 0 4 4H543a4 4 0 0 0 4 -4V333.6" stroke-width="1.6"/><path d="M441.3 335V356" stroke-width="2.6"/><path d="M438.9 467.8V421a4.6 4.6 0 0 1 4.6 -4.6H543.4a4.6 4.6 0 0 1 4.6 4.6V467.8" stroke-width="1.5"/><path d="M440 440.6H479.9M508.8 440.6H546" stroke-width="1.3"/><rect x="479.9" y="419.8" width="28.9" height="22.6" rx="4" stroke-width="1.6"/><path d="M551.5 305.7V470" stroke-width="1.4"/><path d="M417 485Q421 495.4 431 495.4H554.4Q565 495.4 571 484" stroke-width="1.3"/><path d="M429.6 469Q431 481 440 481.6M547.5 481.6Q556 481 558 469" stroke-width="1.2"/><path d="M421.6 475.9Q424 487 432 487.4M555 487.4Q563 487 566 476" stroke-width="1.2"/></g>
<g fill="#111"><rect x="451" y="321.8" width="5.3" height="3.4" rx="0.8"/><rect x="457.8" y="321.8" width="5.3" height="3.4" rx="0.8"/><rect x="464.5" y="321.8" width="5.3" height="3.4" rx="0.8"/><rect x="471.2" y="321.8" width="5.3" height="3.4" rx="0.8"/><rect x="478" y="321.8" width="5.3" height="3.4" rx="0.8"/><rect x="484.8" y="321.8" width="5.3" height="3.4" rx="0.8"/><rect x="491.5" y="321.8" width="5.3" height="3.4" rx="0.8"/><rect x="498.2" y="321.8" width="5.3" height="3.4" rx="0.8"/><rect x="505" y="321.8" width="5.3" height="3.4" rx="0.8"/><rect x="511.8" y="321.8" width="5.3" height="3.4" rx="0.8"/><rect x="518.5" y="321.8" width="5.3" height="3.4" rx="0.8"/><rect x="525.2" y="321.8" width="5.3" height="3.4" rx="0.8"/><rect x="532" y="321.8" width="5.3" height="3.4" rx="0.8"/><path d="M490.2 311h6v8.6h-6z" /><path d="M502 313.5l4 2.5 -4 2.5z"/></g>
<g stroke="#1e1e1e" stroke-width="1.2" fill="none"><path d="M292 317.8C292.9 317.2 293.8 317.2 297.7 314C301.6 310.8 306.5 302.5 315.7 298.4C324.9 294.3 335.3 291.7 353 289.4C370.7 287.1 394.2 285.3 422 284.6C449.8 283.9 491.8 284.7 520 285C548.2 285.3 570.5 285.6 591 286.5C611.5 287.4 629.5 288.8 643 290.5C656.5 292.2 666 295.2 672 297C678 298.8 675.6 298.1 679 301.5C682.4 304.9 690.2 314.9 692.5 317.6"/><path d="M310 317.8C310.9 315.5 311.9 307.4 315.7 304C319.5 300.6 326.8 299 333 297.5C339.2 296 338.2 296.3 353 295.2C367.8 294.1 393.3 291.5 422 290.8C450.7 290.1 495.3 290.6 525 291C554.7 291.4 579.2 291.8 600 293C620.8 294.2 638.7 296.2 650 298C661.3 299.8 664.1 300.8 668 304C671.9 307.2 672.6 314.8 673.5 317"/><path d="M328 315C328.9 312.9 329.5 305.4 333.7 302.6C337.9 299.8 338.3 299.8 353 298.4C367.7 297 383.8 294.7 422 294.3C460.2 293.9 544.2 295.1 582.5 296.2C620.8 297.2 638.8 297.5 651.7 300.6C664.6 303.7 658.4 312.4 659.7 314.7"/><path d="M310 317.8H315.7"/><path d="M328.2 314.9 A131 131 0 0 1 424.9 485.6"/><path d="M563.1 485.6 A131 131 0 0 1 659.8 314.9"/><path d="M692.5 317.6C694.2 317.6 699.1 317.3 703 317.6C706.9 317.9 713.8 319.3 716 319.6"/></g>
<g fill="#111"><path d="M396.8 347l8 -7.7v4.6h7.8v6.4h-7.8v4.3z"/><path d="M590.1 347l-8 -7.7v4.6h-7.9v6.4h7.9v4.3z"/><path d="M396.5 318.6h4.5a6 6.1 0 0 1 0 12.2h-4.5z"/><path d="M389.3 320.4h7.2M389.3 323.4h7.2M389.3 326.4h7.2M389.3 329.4h7.2" stroke="#111" stroke-width="1.5"/><path d="M375 300.7q9 2 6.5 7.5q-2.5 6 -6.5 7.5z" fill="none" stroke="#111" stroke-width="1.4"/><path d="M368 304l6 1M368 308h6M368 312l6 -1M370 302q2 6 0 12" fill="none" stroke="#111" stroke-width="1.1"/><path d="M585 308.2v-4a3.5 3.5 0 0 1 3.5 -3.6h5.5a3.5 3.5 0 0 1 3.5 3.6v4z" fill="none" stroke="#111" stroke-width="2"/><path d="M586 309v3l-1.8 3.5M596 309v3l-1.5 3.5M589 312q1 2 -1 4M593.5 312q1 2 -1 4" fill="none" stroke="#111" stroke-width="1.6"/><path d="M583.5 324.5q4 0 4 4t-4 4zM593 324.5q-4 0 -4 4t4 4z" fill="none" stroke="#111" stroke-width="1.5"/><path d="M578 326l4 -1M578 328.5h4.5M578 331.5l4 1M594 325h4.5M594 328.5h4.5M594 332l4 1" fill="none" stroke="#111" stroke-width="1.1"/><circle cx="634" cy="308.3" r="1.8"/><path d="M633 311l-2 5h5l2 3M629 317l-1.5 2.5M637.5 310l-1.5 3" fill="none" stroke="#111" stroke-width="1.8"/><path d="M230.9 508.8h20.3v10.6h-20.3z" fill="none" stroke="#111" stroke-width="1.4"/><path d="M233.5 508.5q1.5 -3 3 0zM245 508.5q1.5 -3 3 0z"/><circle cx="235" cy="512.8" r="0.9"/><circle cx="247" cy="512.5" r="0.9"/><path d="M268.3 505.8v8" stroke="#111" stroke-width="1.3"/><path d="M268.5 507.5h2.4v4.5h-2.4z"/><path d="M261 517q1.5 2 3.5 0t3.5 0t3.5 0t3.5 0M262 519.5q1.5 1 3 0t3 0t3 0t3 0" fill="none" stroke="#111" stroke-width="1.3"/><circle cx="403.4" cy="529.3" r="2.8"/><path d="M398.5 538.2l5 -3.5 4 -2.5M403.5 534.7l2 3.5" fill="none" stroke="#111" stroke-width="2"/><path d="M408 528.5l2 0.5M411 530l1.5 1" fill="none" stroke="#111" stroke-width="1.1"/><circle cx="200.3" cy="540" r="4.3" fill="none" stroke="#111" stroke-width="1.2"/><path d="M190 535.5h5M190 538.5h5M190 541.5h5M190 544.5h5M192.5 533.5v13" fill="none" stroke="#111" stroke-width="1"/><path d="M156.1 493.2v-4.2l3.5 -1.2 3.5 -3.8h6.5l2.5 3.5 3 1v4.7z"/><path d="M158 489.3h15M159 491.6h4M166 491.6h6" stroke="#fff" stroke-width="0.9"/><path d="M475.5 498.3h7.2v11.6h-7.2z" fill="none" stroke="#111" stroke-width="1.5"/><path d="M476 504h6.5v5.9h-6.5z"/><path d="M482.7 500l2.7 2.5v6l-1.5 1" fill="none" stroke="#111" stroke-width="1"/><path d="M474.5 510.5h9" stroke="#111" stroke-width="1.2"/><path d="M497.5 503.5h15l-4.5 4.5h-9.5z" fill="none" stroke="#111" stroke-width="1.4"/><path d="M494 499.5l4 3M512.5 503.5l2.5 -3.5M501 502v-2.5h3" fill="none" stroke="#111" stroke-width="1.5"/><circle cx="515.5" cy="505" r="0.9"/><path d="M471.1 531.2v-7l3 -4h5v11z"/><path d="M480.5 519v12.2h6v-9.5z"/><path d="M473.5 524.5h4" stroke="#fff" stroke-width="1.2"/><path d="M526 515.5q-4 5 -2 11l2 2.5h10l1.5 -2.5q2 -6 -1.5 -11" fill="none" stroke="#111" stroke-width="1.7"/><path d="M531 517v7M531 526v1.5" stroke="#111" stroke-width="1.4"/><path d="M549.5 516.6v-3.8a3 3 0 0 1 3 -3h4a3 3 0 0 1 3 3v3.8z" fill="none" stroke="#111" stroke-width="1.9"/><path d="M552 518l-3 3M557 518v3" fill="none" stroke="#111" stroke-width="1.3"/><text x="554" y="531" font-size="8" font-weight="bold" text-anchor="middle" textLength="11" lengthAdjust="spacingAndGlyphs" font-family="Liberation Sans">OFF</text><path d="M570.5 522.5h9.5v15h-9.5z" fill="none" stroke="#111" stroke-width="1.3"/><path d="M573 526h5M573 533.5h5" stroke="#111" stroke-width="1.5"/><path d="M570 525l-3 7M580.5 525l3.5 7" fill="none" stroke="#111" stroke-width="1.4"/><circle cx="806.5" cy="516.3" r="6.6" fill="none" stroke="#111" stroke-width="1.5"/><path d="M802 518.5l4.5 -5 4.5 5z"/><path d="M816.8 509v9.5M816.8 521v2.5" stroke="#111" stroke-width="2"/><path d="M450 381.5a6.5 6.5 0 1 0 9.5 -4" fill="none" stroke="#111" stroke-width="1.6"/><path d="M447 375.5l7 7" stroke="#111" stroke-width="1.4"/><circle cx="454.5" cy="383" r="1.2"/></g>
</svg>
</body></html>
